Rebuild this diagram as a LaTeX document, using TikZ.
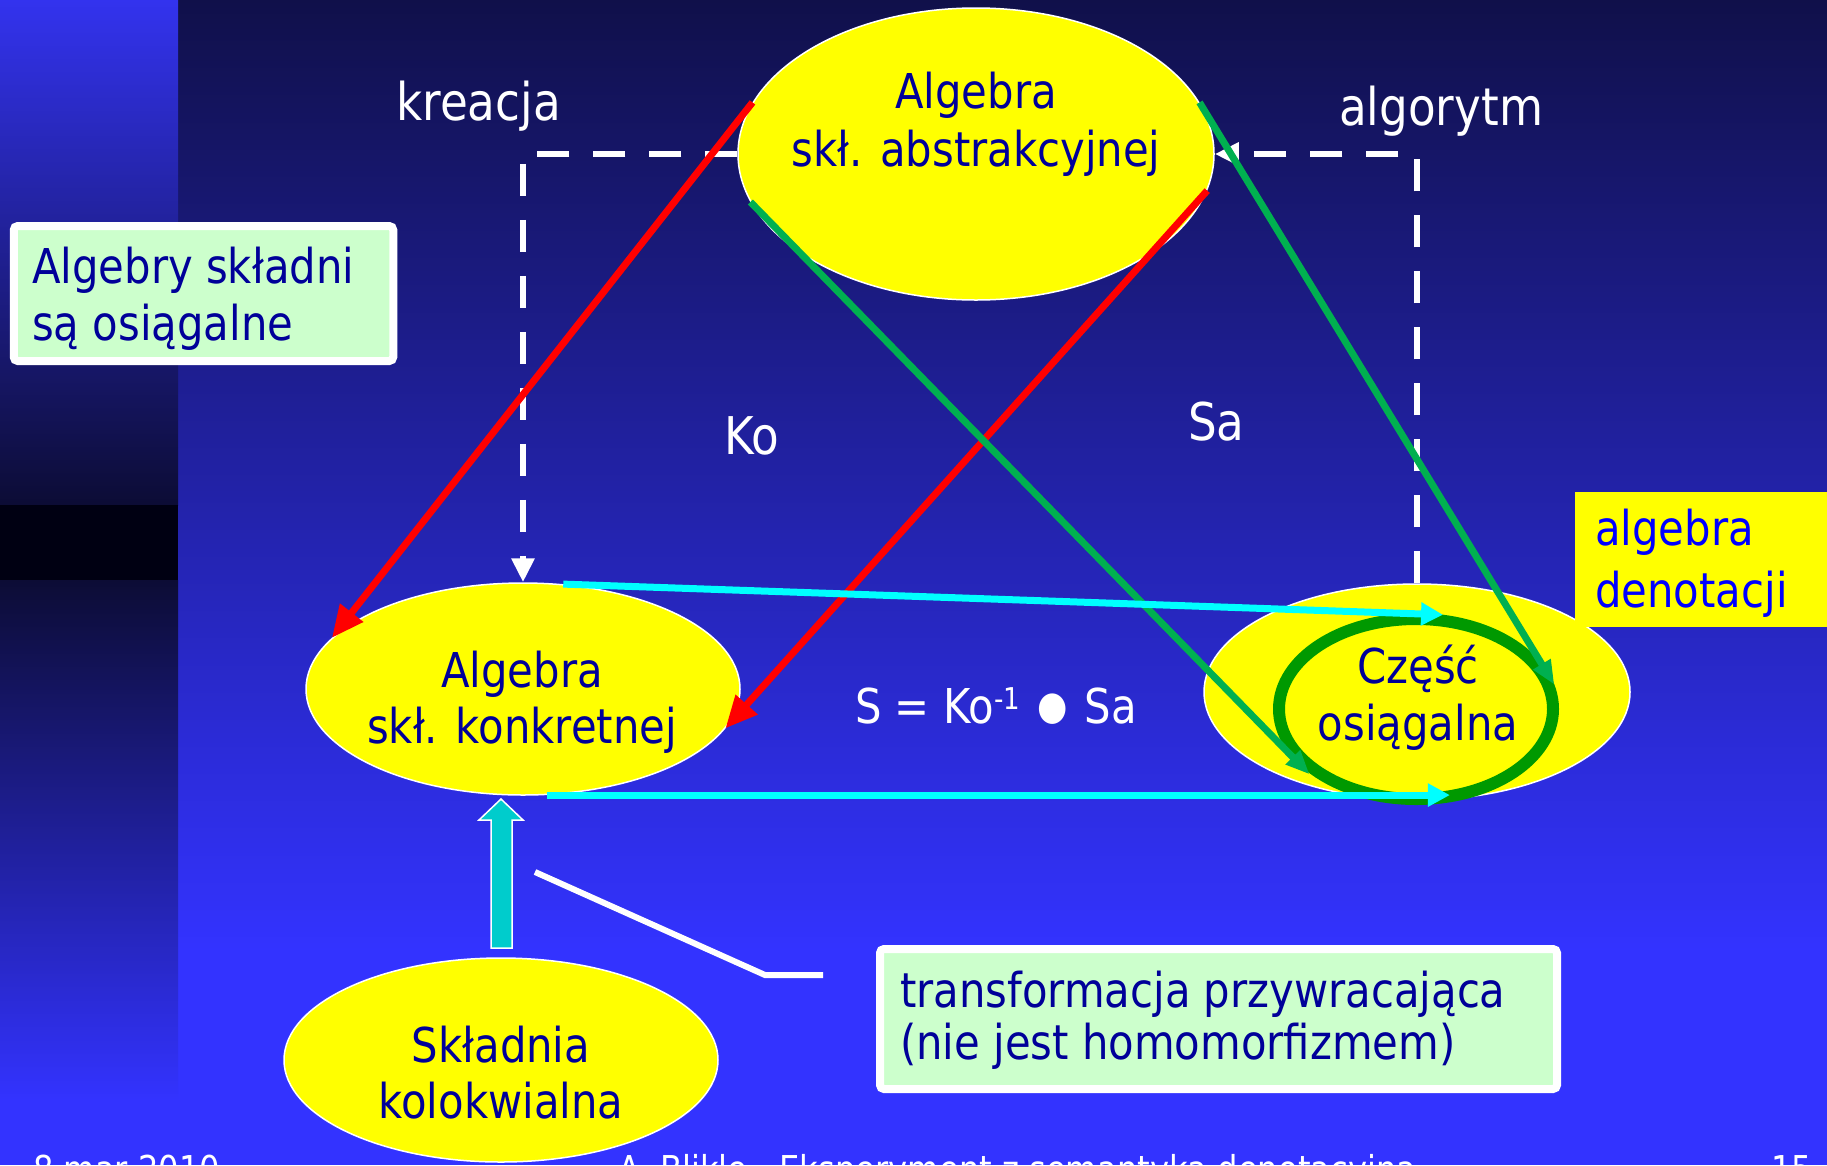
\documentclass[tikz,border=0pt]{standalone}
\usepackage{fontspec}
\setmainfont{DejaVu Sans}[FakeStretch=0.87]
\usetikzlibrary{shapes.geometric,arrows.meta}
\definecolor{navy}{HTML}{000099}
\definecolor{brightblue}{HTML}{0000FF}
\definecolor{bgtop}{HTML}{10104A}
\definecolor{bgblue}{HTML}{3333FF}
\definecolor{striptop}{HTML}{3333EE}
\definecolor{stripdark}{HTML}{0C0C35}
\definecolor{stripblack}{HTML}{000012}
\definecolor{boxgreen}{HTML}{CCFFCC}
\definecolor{arrgreen}{HTML}{00B050}
\definecolor{ringgreen}{HTML}{009900}
\definecolor{blockcyan}{HTML}{00CCCC}
\definecolor{cyanline}{HTML}{00FFFF}
\definecolor{yell}{HTML}{FFFF00}
\definecolor{redline}{HTML}{FF0000}
\begin{document}
\begin{tikzpicture}[x=1pt,y=-1pt,
  ell/.style={ellipse, fill=yell, draw=white, line width=1.5pt, inner sep=0pt},
  txt/.style={inner sep=0pt, anchor=base, font=\fontsize{48}{57}\selectfont},
  ltxt/.style={txt, anchor=base west},
  wtxt/.style={ltxt, text=white, font=\fontsize{52}{60}\selectfont},
  foot/.style={inner sep=0pt, anchor=base west, text=white, font=\fontsize{37}{44}\selectfont},
  redarr/.style={draw=redline, line width=7pt, -{Triangle[length=32pt,width=28pt]}},
  greenarr/.style={draw=arrgreen, line width=7pt, -{Triangle[length=24pt,width=19pt]}},
  cyanarr/.style={draw=cyanline, line width=7pt, -{Triangle[length=22pt,width=22pt]}},
  dasharr/.style={draw=white, line width=6pt, dash pattern=on 32pt off 24pt, -{Triangle[length=24pt,width=22pt]}},
  notebox/.style={draw=white, line width=8pt, rounded corners=4pt, fill=boxgreen, inner sep=0pt},
]
\useasboundingbox (0,0) rectangle (1827,1165);
\clip (0,0) rectangle (1827,1165);
% background
\shade[top color=bgtop, bottom color=bgblue] (178,0) rectangle (1827,950);
\fill[bgblue] (178,949) rectangle (1827,1165);
\shade[top color=striptop, bottom color=stripdark] (0,0) rectangle (178,505);
\fill[stripblack] (0,505) rectangle (178,580);
\shade[top color=stripdark, bottom color=bgblue] (0,580) rectangle (178,1100);
\fill[bgblue] (0,1099) rectangle (178,1165);

% ellipses
\node[ell, minimum width=476pt, minimum height=292pt] (T) at (976,154) {};
\node[ell, minimum width=434pt, minimum height=212pt] (L) at (523,689) {};
\node[ell, minimum width=426pt, minimum height=216pt] (R) at (1417,692) {};
\node[ell, minimum width=434pt, minimum height=204pt] (B) at (501,1060) {};
\node[fill=yell, inner sep=0pt, minimum width=270pt, minimum height=135pt, anchor=north west] (D) at (1575,492) {};
\node[ellipse, draw=ringgreen, line width=12pt, minimum width=274pt, minimum height=180pt, inner sep=0pt] (G) at (1416,709) {};

% boxes
\node[notebox, minimum width=379.5pt, minimum height=135pt] (A) at (203.5,293.5) {};
\node[notebox, minimum width=677pt, minimum height=140pt] (P) at (1218.5,1019) {};

% ellipse texts
\node[txt, text=navy] (T1) at (976,108) {Algebra};
\node[txt, text=navy] (T2) at (976,166) {skł. abstrakcyjnej};
\node[txt, text=navy] (L1) at (522,687) {Algebra};
\node[txt, text=navy] (L2) at (522,743) {skł. konkretnej};
\node[txt, text=navy] (R1) at (1418,683) {Część};
\node[txt, text=navy] (R2) at (1418,740) {osiągalna};
\node[txt, text=navy] (B1) at (501,1062) {Składnia};
\node[txt, text=navy] (B2) at (501,1118) {kolokwialna};

% box texts
\node[ltxt, text=navy] (A1) at (32,283) {Algebry składni};
\node[ltxt, text=navy] (A2) at (32,340) {są osiągalne};
\node[ltxt, text=brightblue] (D1) at (1595,545) {algebra};
\node[ltxt, text=brightblue] (D2) at (1595,607) {denotacji};
\node[ltxt, text=navy] (P1) at (900,1007) {transformacja przywracająca};
\node[ltxt, text=navy] (P2) at (900,1059) {(nie jest homomorfizmem)};

% white labels
\node[wtxt] (kre) at (396,120) {kreacja};
\node[wtxt] (alg) at (1339,125) {algorytm};
\node[wtxt] (ko) at (724,454) {Ko};
\node[wtxt] (sa) at (1188,440) {Sa};
\node[ltxt, text=white] (form) at (855,723) {S = Ko\raisebox{14pt}{\fontsize{30}{30}\selectfont -1}\kern 17pt\raisebox{4pt}{\fontsize{40}{40}\selectfont ●}\kern 17pt Sa};

% dashed connectors
\draw[dasharr] (T.west) -| (L.north);
\draw[dasharr] (R.north) |- (T.east);

% red
\draw[redarr] (T.167) -- (L.165);
\draw[redarr] (T.351) -- (L.349);
% green
\draw[greenarr, shorten >=-8pt] (T.192) -- (G.208);
\draw[greenarr] (T.13) -- (G.10);
% cyan
\draw[cyanarr] (L.69) -- (G.74);
\draw[cyanarr] (L.283) -- (L.283 -| G.290);

% block arrow
\filldraw[fill=blockcyan, draw=white, line width=1.5pt] (491,948) -- (512,948) -- (512,820) -- (523,820) -- (501,799) -- (479,820) -- (491,820) -- cycle;

% callout line
\coordinate (c1) at (535,872);
\coordinate (c2) at (765,975);
\coordinate (c3) at (823,975);
\draw[white, line width=6pt] (c1) -- (c2) -- (c3);

% footer (cut off at the lower edge, as in the reference)
\node[foot] (f1) at (33,1182) {8 mar 2010};
\node[foot] (f2) at (618,1182) {A. Blikle - Eksperyment z semantyką denotacyjną};
\node[foot] (f3) at (1771,1182) {15};
\end{tikzpicture}
\end{document}
